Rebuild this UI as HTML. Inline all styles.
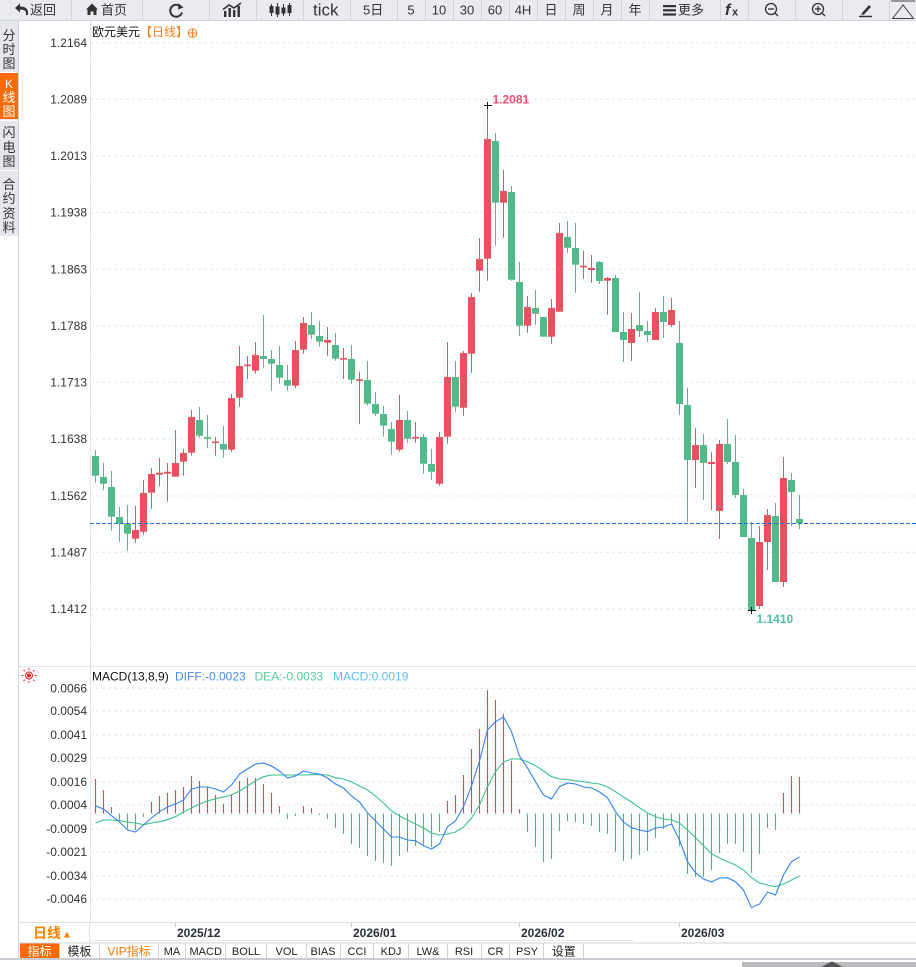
<!DOCTYPE html>
<html><head><meta charset="utf-8"><style>
html,body{margin:0;padding:0;background:#fff;}
body{width:916px;height:967px;overflow:hidden;position:relative;}
svg{position:absolute;left:0;top:0;}
text{font-family:"Liberation Sans","Noto Sans CJK SC",sans-serif;}
</style></head><body>
<svg width="916" height="967" viewBox="0 0 916 967" xmlns="http://www.w3.org/2000/svg">
<!-- toolbar -->
<rect x="0" y="0" width="916" height="21" fill="#e9ebf0"/>
<line x1="0" y1="20.5" x2="916" y2="20.5" stroke="#cfd3da"/>
<g stroke="#d2d5dc" stroke-width="1">
<line x1="71.5" y1="0" x2="71.5" y2="21"/><line x1="142.5" y1="0" x2="142.5" y2="21"/><line x1="209.5" y1="0" x2="209.5" y2="21"/><line x1="256.5" y1="0" x2="256.5" y2="21"/><line x1="303.5" y1="0" x2="303.5" y2="21"/><line x1="350.5" y1="0" x2="350.5" y2="21"/><line x1="397.5" y1="0" x2="397.5" y2="21"/><line x1="425.5" y1="0" x2="425.5" y2="21"/><line x1="453.5" y1="0" x2="453.5" y2="21"/><line x1="481.5" y1="0" x2="481.5" y2="21"/><line x1="509.5" y1="0" x2="509.5" y2="21"/><line x1="537.5" y1="0" x2="537.5" y2="21"/><line x1="565.5" y1="0" x2="565.5" y2="21"/><line x1="593.5" y1="0" x2="593.5" y2="21"/><line x1="621.5" y1="0" x2="621.5" y2="21"/><line x1="649.5" y1="0" x2="649.5" y2="21"/><line x1="720.5" y1="0" x2="720.5" y2="21"/><line x1="748.5" y1="0" x2="748.5" y2="21"/><line x1="795.5" y1="0" x2="795.5" y2="21"/><line x1="842.5" y1="0" x2="842.5" y2="21"/><line x1="889.5" y1="0" x2="889.5" y2="21"/>
</g>
<g fill="#333" font-size="13">
<path d="M15 8 L20 3.5 L20 6.5 Q28 6.5 28 13 L28 15 L26 15 L26 13 Q26 9.5 20 9.5 L20 12.5 Z" fill="#333"/>
<text x="30" y="14.5">返回</text>
<path d="M86 9.5 L92 3.5 L98 9.5 L96.5 9.5 L96.5 15 L93.5 15 L93.5 11.5 L90.5 11.5 L90.5 15 L87.5 15 L87.5 9.5 Z"/>
<text x="101" y="14.5">首页</text>
<text x="313" y="15.5" font-size="17">tick</text>
<text x="363" y="14.5">5日</text>
<text x="411" y="14.5" text-anchor="middle">5</text>
<text x="439" y="14.5" text-anchor="middle">10</text>
<text x="467" y="14.5" text-anchor="middle">30</text>
<text x="495" y="14.5" text-anchor="middle">60</text>
<text x="523" y="14.5" text-anchor="middle">4H</text>
<text x="551" y="14.5" text-anchor="middle">日</text>
<text x="579" y="14.5" text-anchor="middle">周</text>
<text x="607" y="14.5" text-anchor="middle">月</text>
<text x="635" y="14.5" text-anchor="middle">年</text>
<rect x="663" y="5" width="13" height="2.2"/><rect x="663" y="9.2" width="13" height="2.2"/><rect x="663" y="13.4" width="13" height="2.2"/>
<text x="678" y="14.5">更多</text>
<text x="725" y="15" font-size="16" font-style="italic" font-weight="bold" font-family="Liberation Serif">f</text>
<text x="732" y="15.5" font-size="11" font-weight="bold">x</text>
</g>
<!-- refresh icon -->
<path d="M181 7 A6 6 0 1 0 182 12.5" fill="none" stroke="#333" stroke-width="2"/>
<path d="M178.5 3.5 L183.5 7.5 L178 9.5 Z" fill="#333"/>
<!-- line chart icon -->
<g fill="#333"><rect x="224" y="11" width="2.4" height="6"/><rect x="228.5" y="8" width="2.4" height="9"/><rect x="233" y="10" width="2.4" height="7"/><rect x="237.5" y="6" width="2.4" height="11"/></g>
<path d="M223 9.5 L229 5 L234 8 L241 3" fill="none" stroke="#333" stroke-width="1.6"/>
<!-- candles icon -->
<g fill="#333" stroke="#333" stroke-width="1">
<line x1="271.5" y1="4" x2="271.5" y2="16"/><rect x="270" y="6.5" width="3" height="6"/>
<line x1="277.5" y1="3" x2="277.5" y2="17"/><rect x="276" y="7" width="3" height="7"/>
<line x1="283.5" y1="4" x2="283.5" y2="16"/><rect x="282" y="8" width="3" height="5"/>
<line x1="289.5" y1="3" x2="289.5" y2="16"/><rect x="288" y="5.5" width="3" height="7"/>
</g>
<!-- zoom icons -->
<g fill="none" stroke="#333" stroke-width="1.3">
<circle cx="771" cy="9" r="5.5"/><line x1="775" y1="13" x2="778" y2="16"/><line x1="768" y1="9" x2="774" y2="9"/>
<circle cx="818" cy="9" r="5.5"/><line x1="822" y1="13" x2="825" y2="16"/><line x1="815" y1="9" x2="821" y2="9"/><line x1="818" y1="6" x2="818" y2="12"/>
</g>
<path d="M862 13 L869 5 L871 7 L864 14.5 L861.5 15 Z" fill="#333"/>
<line x1="859" y1="16.5" x2="872" y2="16.5" stroke="#333" stroke-width="1.5"/>
<line x1="891" y1="1" x2="915" y2="1" stroke="#444" stroke-width="1"/>
<path d="M892.5 18.5 L903 5 L913.5 18.5 Z" fill="none" stroke="#444" stroke-width="1"/>

<!-- left sidebar -->
<rect x="0" y="21" width="18" height="215" fill="#e5e7ec"/>
<rect x="0" y="73" width="18" height="46" fill="#fb6a06"/>
<g stroke="#fff"><line x1="0" y1="72.5" x2="18" y2="72.5"/><line x1="0" y1="120.5" x2="18" y2="120.5"/><line x1="0" y1="170.5" x2="18" y2="170.5"/></g>
<line x1="18.5" y1="21" x2="18.5" y2="959" stroke="#cfd3da"/>
<g font-size="13" fill="#333" text-anchor="middle">
<text x="9" y="40">分</text><text x="9" y="54">时</text><text x="9" y="68">图</text>
<text x="9" y="88" fill="#fff" font-family="Liberation Serif" font-size="12">K</text><text x="9" y="102" fill="#fff">线</text><text x="9" y="116" fill="#fff">图</text>
<text x="9" y="137">闪</text><text x="9" y="152">电</text><text x="9" y="166">图</text>
<text x="9" y="189">合</text><text x="9" y="203">约</text><text x="9" y="218">资</text><text x="9" y="232">料</text>
</g>

<!-- main chart axis & grid -->
<line x1="90.5" y1="21" x2="90.5" y2="922" stroke="#dfe3e8"/>
<line x1="92.5" y1="21" x2="92.5" y2="922" stroke="#e4e8ed" stroke-dasharray="1,10"/>
<g stroke="#e6e6e6" stroke-dasharray="3,3">
<line x1="90" y1="42.7" x2="916" y2="42.7"/>
<line x1="90" y1="99.3" x2="916" y2="99.3"/>
<line x1="90" y1="156" x2="916" y2="156"/>
<line x1="90" y1="212.5" x2="916" y2="212.5"/>
<line x1="90" y1="269.3" x2="916" y2="269.3"/>
<line x1="90" y1="326" x2="916" y2="326"/>
<line x1="90" y1="382.3" x2="916" y2="382.3"/>
<line x1="90" y1="439" x2="916" y2="439"/>
<line x1="90" y1="496" x2="916" y2="496"/>
<line x1="90" y1="552.3" x2="916" y2="552.3"/>
<line x1="90" y1="609" x2="916" y2="609"/>
</g>
<g font-size="12" fill="#333" text-anchor="end">
<text x="87" y="47">1.2164</text>
<text x="87" y="103.5">1.2089</text>
<text x="87" y="160.2">1.2013</text>
<text x="87" y="216.7">1.1938</text>
<text x="87" y="273.5">1.1863</text>
<text x="87" y="330.2">1.1788</text>
<text x="87" y="386.5">1.1713</text>
<text x="87" y="443.2">1.1638</text>
<text x="87" y="500.2">1.1562</text>
<text x="87" y="556.5">1.1487</text>
<text x="87" y="613.2">1.1412</text>
</g>
<text x="92" y="36" font-size="12" fill="#111">欧元美元</text>
<text x="140" y="36" font-size="12" fill="#f58220">【日线】</text>
<circle cx="192.5" cy="33" r="4.3" fill="none" stroke="#f58220" stroke-width="1"/>
<line x1="188" y1="33" x2="197" y2="33" stroke="#f58220"/><line x1="192.5" y1="28.5" x2="192.5" y2="37.5" stroke="#f58220"/>

<!-- candles: red -->
<path fill="none" stroke="#ee4e5f" stroke-width="1" d="M135.5 506V542.7M143.5 480V534.7M151.5 468V508.7M159.5 458V486M167.5 463V501.7M175.5 430V476.7M183.5 449V475.7M191.5 410V455.7M215.5 437V455.7M231.5 394V451.7M239.5 346V406.7M247.5 356V379M255.5 342V373.7M295.5 341V388M303.5 317V353.7M327.5 327V355.7M343.5 348V379M359.5 371.7V424.3M399.5 394.7V451.7M415.5 422V442.7M439.5 432V485.7M447.5 342V443.7M463.5 351V415.7M471.5 293V372.7M479.5 238V291.7M487.5 105.7V280.7M503.5 170V237.7M527.5 296V332.7M551.5 299V343.7M559.5 223V311.7M583.5 250.7V278.7M591.5 255V282.7M607.5 277V314.7M631.5 313V361M655.5 308V340M671.5 298V327M695.5 428V488M711.5 452V510M719.5 440V539M759.5 526V609M767.5 509V570M783.5 457V587"/>
<g fill="#ee4e5f">
<rect x="132" y="530" width="7" height="8.7"/><rect x="140" y="493" width="7" height="38.7"/><rect x="148" y="474" width="7" height="18.7"/><rect x="156" y="472.7" width="7" height="2"/><rect x="164" y="471.7" width="7" height="2"/><rect x="172" y="463" width="7" height="13.7"/><rect x="180" y="453" width="7" height="8.7"/><rect x="188" y="417" width="7" height="35.7"/><rect x="212" y="441.5" width="7" height="1.6"/><rect x="228" y="398" width="7" height="51.7"/><rect x="236" y="366" width="7" height="31.7"/><rect x="244" y="364.5" width="7" height="1.6"/><rect x="252" y="355" width="7" height="15.7"/><rect x="292" y="350" width="7" height="35.7"/><rect x="300" y="323" width="7" height="26.7"/><rect x="324" y="340" width="7" height="2.7"/><rect x="340" y="358" width="7" height="1.6"/><rect x="356" y="379.3" width="7" height="1.6"/><rect x="396" y="420" width="7" height="29.7"/><rect x="412" y="437" width="7" height="1.6"/><rect x="436" y="437" width="7" height="46.7"/><rect x="444" y="377" width="7" height="59.7"/><rect x="460" y="353" width="7" height="54.7"/><rect x="468" y="297" width="7" height="56.7"/><rect x="476" y="259" width="7" height="11.7"/><rect x="484" y="139" width="7" height="119.7"/><rect x="500" y="191" width="7" height="11.7"/><rect x="524" y="307" width="7" height="18.7"/><rect x="548" y="308" width="7" height="28.7"/><rect x="556" y="233" width="7" height="78.7"/><rect x="580" y="265.7" width="7" height="1.6"/><rect x="588" y="268" width="7" height="2"/><rect x="604" y="278" width="7" height="2.7"/><rect x="628" y="329" width="7" height="14"/><rect x="652" y="312" width="7" height="28"/><rect x="668" y="310" width="7" height="15"/><rect x="692" y="445" width="7" height="15"/><rect x="708" y="462" width="7" height="2"/><rect x="716" y="444" width="7" height="67"/><rect x="756" y="542" width="7" height="64"/><rect x="764" y="515" width="7" height="27"/><rect x="780" y="478" width="7" height="104"/>
</g>
<!-- candles: green -->
<path fill="none" stroke="#52ba88" stroke-width="1" d="M95.5 450V482.7M103.5 463V490M111.5 471V530.7M119.5 507V541.7M127.5 505V550.7M199.5 407V437.7M207.5 415V447.7M223.5 426V457.7M263.5 315V367.7M271.5 350V390.7M279.5 346V383.7M287.5 365V390.7M311.5 312V339M319.5 321V346.7M335.5 333V360.7M351.5 345V383.7M367.5 361V405.7M375.5 392V416M383.5 406V436.7M391.5 422V454.7M407.5 411V442.7M423.5 434V473.7M431.5 449V479.7M455.5 361V412M495.5 133V245.7M511.5 186V280.7M519.5 262V335.7M535.5 290V324.7M543.5 317V337M567.5 221V252.7M575.5 223V292.7M599.5 261V284M615.5 275V332M623.5 312V362M639.5 292V337M647.5 321V342M663.5 296V338M679.5 321V415M687.5 388V522M703.5 434V500M727.5 419V464M735.5 435V498M743.5 489V537M751.5 522V610M775.5 503V582M791.5 473V526M799.5 495V529"/>
<g fill="#52ba88">
<rect x="92" y="456" width="7" height="19.7"/><rect x="100" y="477" width="7" height="6.7"/><rect x="108" y="487" width="7" height="29.7"/><rect x="116" y="517" width="7" height="6.3"/><rect x="124" y="523.7" width="7" height="10"/><rect x="196" y="420" width="7" height="15.7"/><rect x="204" y="437" width="7" height="1.7"/><rect x="220" y="444" width="7" height="5.7"/><rect x="260" y="356" width="7" height="3"/><rect x="268" y="359" width="7" height="4.7"/><rect x="276" y="365" width="7" height="12.7"/><rect x="284" y="380" width="7" height="5.7"/><rect x="308" y="325" width="7" height="9.7"/><rect x="316" y="336" width="7" height="5.7"/><rect x="332" y="345" width="7" height="13.7"/><rect x="348" y="359" width="7" height="20.7"/><rect x="364" y="380" width="7" height="23.7"/><rect x="372" y="404" width="7" height="9.7"/><rect x="380" y="414" width="7" height="11.7"/><rect x="388" y="429" width="7" height="12.7"/><rect x="404" y="420" width="7" height="18.7"/><rect x="420" y="437" width="7" height="26.7"/><rect x="428" y="464" width="7" height="7.7"/><rect x="452" y="377" width="7" height="29.7"/><rect x="492" y="141" width="7" height="61.7"/><rect x="508" y="192" width="7" height="87.7"/><rect x="516" y="282" width="7" height="43.7"/><rect x="532" y="308" width="7" height="5.7"/><rect x="540" y="317" width="7" height="19.7"/><rect x="564" y="237" width="7" height="10.7"/><rect x="572" y="248" width="7" height="16.7"/><rect x="596" y="262" width="7" height="19"/><rect x="612" y="278" width="7" height="54"/><rect x="620" y="332" width="7" height="8"/><rect x="636" y="325" width="7" height="6"/><rect x="644" y="331" width="7" height="4"/><rect x="660" y="312" width="7" height="10"/><rect x="676" y="343" width="7" height="61"/><rect x="684" y="405" width="7" height="55"/><rect x="700" y="445" width="7" height="18"/><rect x="724" y="444" width="7" height="18"/><rect x="732" y="462" width="7" height="33"/><rect x="740" y="495" width="7" height="42"/><rect x="748" y="538" width="7" height="72"/><rect x="772" y="516" width="7" height="66"/><rect x="788" y="480" width="7" height="12"/><rect x="796" y="519" width="7" height="4"/>
</g>
<!-- current price line -->
<line x1="90" y1="523.5" x2="916" y2="523.5" stroke="#1f6fe0" stroke-width="1" stroke-dasharray="4,2"/>
<!-- high / low markers -->
<g stroke="#111" stroke-width="1"><line x1="484" y1="105.5" x2="492" y2="105.5"/><line x1="487.5" y1="102" x2="487.5" y2="109"/>
<line x1="748" y1="610.5" x2="756" y2="610.5"/><line x1="751.5" y1="607" x2="751.5" y2="614"/></g>
<text x="492.5" y="103.5" font-size="12" font-weight="bold" fill="#ef4f70">1.2081</text>
<text x="756.5" y="623" font-size="12" font-weight="bold" fill="#4fc0a0">1.1410</text>

<!-- MACD panel -->
<line x1="19" y1="666.5" x2="916" y2="666.5" stroke="#e1e4e8"/>
<g stroke="#e6e6e6" stroke-dasharray="3,3">
<line x1="90" y1="688.3" x2="916" y2="688.3"/>
<line x1="90" y1="711" x2="916" y2="711"/>
<line x1="90" y1="735" x2="916" y2="735"/>
<line x1="90" y1="758" x2="916" y2="758"/>
<line x1="90" y1="782" x2="916" y2="782"/>
<line x1="90" y1="805" x2="916" y2="805"/>
<line x1="90" y1="829" x2="916" y2="829"/>
<line x1="90" y1="852" x2="916" y2="852"/>
<line x1="90" y1="876" x2="916" y2="876"/>
<line x1="90" y1="899" x2="916" y2="899"/>
</g>
<g font-size="12" fill="#333" text-anchor="end">
<text x="87" y="692.5">0.0066</text>
<text x="87" y="715.2">0.0054</text>
<text x="87" y="739.2">0.0041</text>
<text x="87" y="762.2">0.0029</text>
<text x="87" y="786.2">0.0016</text>
<text x="87" y="809.2">0.0004</text>
<text x="87" y="833.2">-0.0009</text>
<text x="87" y="856.2">-0.0021</text>
<text x="87" y="880.2">-0.0034</text>
<text x="87" y="903.2">-0.0046</text>
</g>
<!-- sun icon -->
<g stroke="#e52020" stroke-width="1" fill="none">
<circle cx="29" cy="675.5" r="3.5"/>
<line x1="29" y1="668" x2="29" y2="670"/><line x1="29" y1="681" x2="29" y2="683"/><line x1="21.5" y1="675.5" x2="23.5" y2="675.5"/><line x1="34.5" y1="675.5" x2="36.5" y2="675.5"/>
<line x1="23.5" y1="670" x2="24.8" y2="671.3"/><line x1="33.2" y1="679.7" x2="34.5" y2="681"/><line x1="34.5" y1="670" x2="33.2" y2="671.3"/><line x1="24.8" y1="679.7" x2="23.5" y2="681"/>
</g>
<circle cx="29" cy="675.5" r="2" fill="#e52020"/>
<text x="92" y="680.5" font-size="12" fill="#111">MACD(13,8,9)</text>
<text x="175" y="680.5" font-size="12" fill="#4a8cf0">DIFF:-0.0023</text>
<text x="254.5" y="680.5" font-size="12" fill="#5ccb98">DEA:-0.0033</text>
<text x="333" y="680.5" font-size="12" fill="#5ec0f0">MACD:0.0019</text>

<!-- histogram -->
<path fill="none" stroke="#e8424f" stroke-width="1.1" d="M95.5 813.5V779M103.5 813.5V790M111.5 813.5V807M151.5 813.5V802M159.5 813.5V796M167.5 813.5V793M175.5 813.5V790M183.5 813.5V787M191.5 813.5V776M199.5 813.5V781M207.5 813.5V787M215.5 813.5V795M223.5 813.5V804M231.5 813.5V794M239.5 813.5V781M247.5 813.5V778M255.5 813.5V778M263.5 813.5V784M271.5 813.5V793M279.5 813.5V806M303.5 813.5V806M311.5 813.5V808M447.5 813.5V801M455.5 813.5V795M463.5 813.5V775M471.5 813.5V749M479.5 813.5V729M487.5 813.5V690M495.5 813.5V700M503.5 813.5V714M511.5 813.5V761M519.5 813.5V809M783.5 813.5V793M791.5 813.5V776M799.5 813.5V777"/>
<path fill="none" stroke="#4db380" stroke-width="1.1" d="M119.5 813.5V820M127.5 813.5V828.7M135.5 813.5V830M143.5 813.5V817M287.5 813.5V819M295.5 813.5V816M319.5 813.5V815M327.5 813.5V819M335.5 813.5V828M343.5 813.5V834M351.5 813.5V844M359.5 813.5V848M367.5 813.5V856M375.5 813.5V861M383.5 813.5V863M391.5 813.5V866M399.5 813.5V856M407.5 813.5V852M415.5 813.5V846M423.5 813.5V845M431.5 813.5V847M439.5 813.5V832M527.5 813.5V832M535.5 813.5V847M543.5 813.5V862M551.5 813.5V859M559.5 813.5V831M567.5 813.5V821M575.5 813.5V822M583.5 813.5V824M591.5 813.5V826M599.5 813.5V832M607.5 813.5V834M615.5 813.5V852M623.5 813.5V861M631.5 813.5V859M639.5 813.5V855M647.5 813.5V851M655.5 813.5V838M663.5 813.5V829M671.5 813.5V823M679.5 813.5V846M687.5 813.5V874M695.5 813.5V877M703.5 813.5V877M711.5 813.5V870M719.5 813.5V853M727.5 813.5V844M735.5 813.5V844M743.5 813.5V852M751.5 813.5V873M759.5 813.5V854M767.5 813.5V828M775.5 813.5V830"/>
<!-- DEA -->
<polyline fill="none" stroke="#3cc28a" stroke-width="1.1" points="95.5,823 103.5,820 111.5,820 119.5,820.7 127.5,822 135.5,823 143.5,824.7 151.5,823 159.5,821.7 167.5,819.7 175.5,816.7 183.5,812 191.5,808 199.5,804 207.5,801 215.5,798.7 223.5,797 231.5,795 239.5,791 247.5,786 255.5,780.7 263.5,776.7 271.5,775 279.5,775 287.5,775 295.5,775 303.5,775 311.5,774.7 319.5,774.7 327.5,775 335.5,777.7 343.5,779 351.5,782 359.5,786 367.5,790 375.5,796 383.5,803 391.5,811 399.5,816 407.5,820 415.5,824 423.5,828 431.5,833 439.5,835 447.5,834 455.5,832 463.5,827 471.5,818 479.5,805 487.5,786.7 495.5,771.7 503.5,762 511.5,759 519.5,759 527.5,761.7 535.5,765.7 543.5,771 551.5,776.7 559.5,779 567.5,779.7 575.5,780.7 583.5,781.7 591.5,783 599.5,784 607.5,787 615.5,791.7 623.5,797 631.5,802 639.5,807.7 647.5,813 655.5,816.7 663.5,819 671.5,820 679.5,823 687.5,830 695.5,837.7 703.5,845.7 711.5,853.7 719.5,858 727.5,861.7 735.5,865 743.5,870 751.5,877.7 759.5,883 767.5,885 775.5,886.7 783.5,884 791.5,880 799.5,876"/>
<!-- DIFF -->
<polyline fill="none" stroke="#2d85f2" stroke-width="1.1" points="95.5,806 103.5,809 111.5,815.7 119.5,822 127.5,830 135.5,832 143.5,825 151.5,818 159.5,811.7 167.5,807 175.5,804 183.5,800 191.5,789 199.5,787 207.5,787 215.5,789 223.5,792 231.5,785 239.5,774 247.5,769 255.5,764 263.5,763 271.5,766 279.5,771 287.5,778 295.5,776 303.5,771 311.5,773 319.5,774 327.5,778 335.5,784 343.5,788 351.5,796 359.5,802 367.5,812.7 375.5,821 383.5,829 391.5,837 399.5,837 407.5,840 415.5,840.7 423.5,845.7 431.5,849 439.5,844 447.5,826.7 455.5,821 463.5,806.7 471.5,786 479.5,761 487.5,730 495.5,721.7 503.5,717 511.5,731.7 519.5,756 527.5,768 535.5,781.7 543.5,795 551.5,799 559.5,786.7 567.5,783 575.5,784 583.5,787 591.5,788 599.5,792 607.5,797.7 615.5,811.7 623.5,822 631.5,827.7 639.5,830 647.5,831.7 655.5,828 663.5,827 671.5,824 679.5,840 687.5,861.7 695.5,872.7 703.5,879 711.5,882 719.5,878 727.5,877.7 735.5,881.7 743.5,890 751.5,907.7 759.5,904 767.5,892 775.5,895 783.5,875 791.5,861.7 799.5,857"/>

<!-- date axis -->
<line x1="19" y1="922.5" x2="916" y2="922.5" stroke="#dde1e6"/>
<line x1="89.5" y1="922" x2="89.5" y2="942" stroke="#dde1e6"/>
<g stroke="#c9ced5"><line x1="175.5" y1="923" x2="175.5" y2="927"/><line x1="351.5" y1="923" x2="351.5" y2="927"/><line x1="519.5" y1="923" x2="519.5" y2="927"/><line x1="679.5" y1="923" x2="679.5" y2="927"/></g>
<text x="33" y="938" font-size="14" font-weight="bold" fill="#f77f00">日线</text>
<text x="62" y="937.5" font-size="10" fill="#f77f00">▲</text>
<g font-size="12" font-weight="bold" fill="#2b2f3a">
<text x="177" y="937">2025/12</text>
<text x="353" y="937">2026/01</text>
<text x="521" y="937">2026/02</text>
<text x="681" y="937">2026/03</text>
</g>
<line x1="90" y1="940.5" x2="634" y2="940.5" stroke="#e6e8ec"/>
<line x1="19" y1="943" x2="916" y2="943" stroke="#cfd3da"/>
<!-- tabs -->
<rect x="20" y="943.5" width="39" height="14.5" fill="#ff6a00"/>
<g stroke="#cfd3da"><line x1="59.5" y1="943" x2="59.5" y2="958"/><line x1="99.5" y1="943" x2="99.5" y2="958"/><line x1="158.5" y1="943" x2="158.5" y2="958"/><line x1="185.5" y1="943" x2="185.5" y2="958"/><line x1="225.5" y1="943" x2="225.5" y2="958"/><line x1="266.5" y1="943" x2="266.5" y2="958"/><line x1="306.5" y1="943" x2="306.5" y2="958"/><line x1="340.5" y1="943" x2="340.5" y2="958"/><line x1="373.5" y1="943" x2="373.5" y2="958"/><line x1="408.5" y1="943" x2="408.5" y2="958"/><line x1="447.5" y1="943" x2="447.5" y2="958"/><line x1="481.5" y1="943" x2="481.5" y2="958"/><line x1="509.5" y1="943" x2="509.5" y2="958"/><line x1="543.5" y1="943" x2="543.5" y2="958"/><line x1="583.5" y1="943" x2="583.5" y2="958"/></g>
<g font-size="12" fill="#222" text-anchor="middle">
<text x="39.5" y="955.5" fill="#fff">指标</text>
<text x="79.5" y="955.5">模板</text>
<text x="129" y="955.5" fill="#ff7a00">VIP指标</text>
</g>
<g font-size="11" fill="#222" text-anchor="middle" font-family="Liberation Mono">
<text x="172" y="955" font-family="Liberation Mono">MA</text>
<text x="205.7" y="955" font-family="Liberation Mono">MACD</text>
<text x="246" y="955" font-family="Liberation Mono">BOLL</text>
<text x="286.5" y="955" font-family="Liberation Mono">VOL</text>
<text x="323" y="955" font-family="Liberation Mono">BIAS</text>
<text x="357" y="955" font-family="Liberation Mono">CCI</text>
<text x="391" y="955" font-family="Liberation Mono">KDJ</text>
<text x="428" y="955" font-family="Liberation Mono">LW&amp;</text>
<text x="464" y="955" font-family="Liberation Mono">RSI</text>
<text x="495.5" y="955" font-family="Liberation Mono">CR</text>
<text x="527" y="955" font-family="Liberation Mono">PSY</text>
</g>
<text x="563.7" y="955.5" font-size="12" fill="#222" text-anchor="middle">设置</text>
<rect x="0" y="958" width="916" height="2" fill="#c9cdd3"/>
<rect x="742" y="962" width="174" height="5" fill="#b8babe"/>
<path d="M821 967 L832 961.5 L843 967 Z" fill="#555"/>
</svg>
</body></html>
